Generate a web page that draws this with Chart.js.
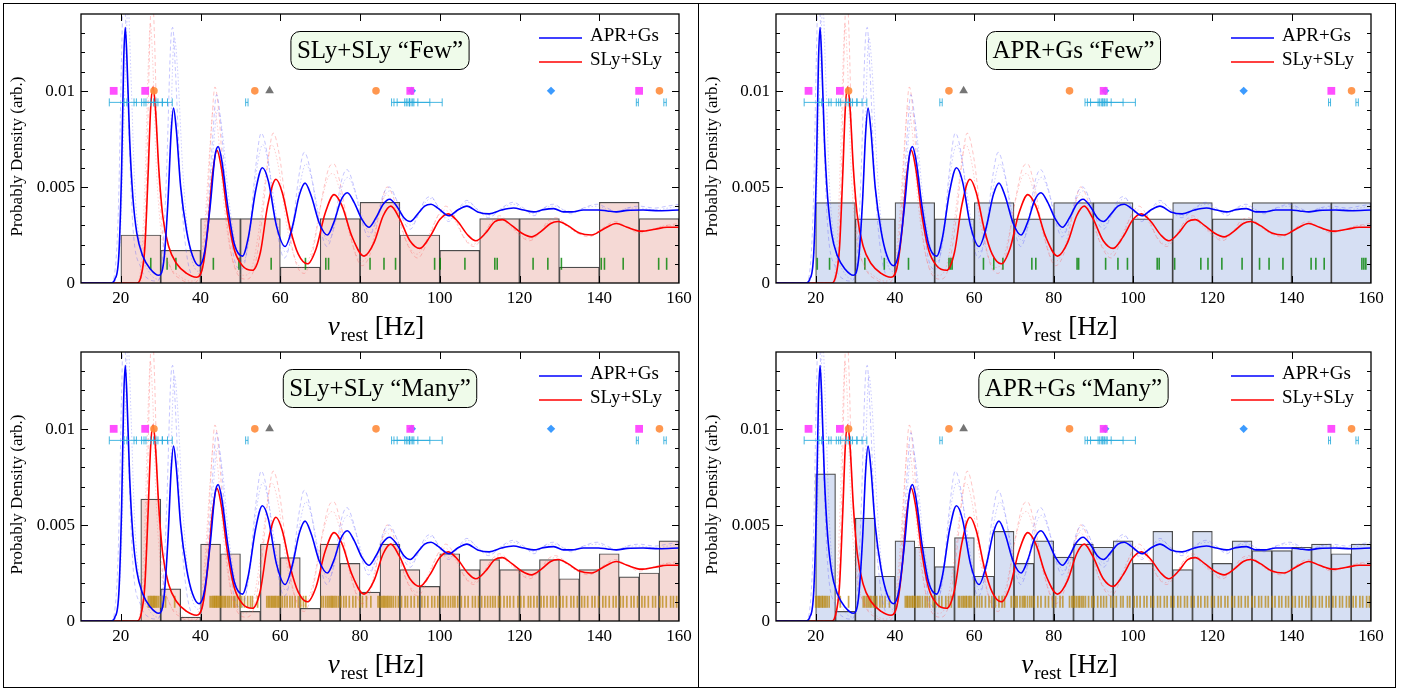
<!DOCTYPE html>
<html><head><meta charset="utf-8">
<script src="https://cdn.jsdelivr.net/npm/chart.js@4.4.0/dist/chart.umd.min.js"></script>
<style>
html,body{margin:0;padding:0;background:#fff;width:1412px;height:690px;overflow:hidden;}
.col{position:absolute;top:3px;height:683px;border:1px solid #000;}
#colL{left:3px;width:694px;}
#colR{left:698px;width:696px;}
canvas{position:absolute;}
</style></head><body>
<div class="col" id="colL"></div><div class="col" id="colR"></div>
<canvas id="c1" width="694" height="340" style="left:4px;top:4px"></canvas>
<canvas id="c2" width="694" height="343" style="left:4px;top:342px"></canvas>
<canvas id="c3" width="695" height="340" style="left:699px;top:4px"></canvas>
<canvas id="c4" width="695" height="343" style="left:699px;top:342px"></canvas>
<script>
const FONT = "'Liberation Serif','Times New Roman',serif";

// ---- curves (nu [Hz], density) ----
const aprCurve = [[10,0],[17.5,0],[18.5,0.0002],[19.5,0.0015],[20.2,0.006],[20.7,0.0115],[21.1,0.0133],[21.5,0.0118],[22.2,0.0075],[23,0.0045],[24,0.0026],[25.5,0.0014],[27.5,0.0007],[29.5,0.0004],[30.8,0.0012],[31.8,0.0042],[32.6,0.0078],[33.2,0.0091],[33.9,0.0080],[35,0.0050],[36.5,0.0027],[38,0.0014],[39.6,0.0009],[41,0.0016],[42.5,0.0042],[43.6,0.0066],[44.4,0.0071],[45.3,0.0064],[46.8,0.0040],[48.5,0.0020],[50.5,0.0014],[52,0.0024],[53.8,0.0048],[55.5,0.0060],[57,0.0053],[59,0.0030],[61.2,0.0019],[63,0.0029],[64.8,0.0046],[66.2,0.0052],[67.8,0.0045],[69.8,0.0031],[71.8,0.0025],[73.5,0.0032],[75.2,0.0043],[76.8,0.0047],[78.5,0.0042],[80.5,0.0033],[82.2,0.0029],[84,0.0034],[85.8,0.0041],[87.4,0.00436],[89.2,0.0040],[91,0.0034],[92.6,0.0032],[94.5,0.0036],[96.2,0.0040],[97.8,0.0041],[99.5,0.0039],[102.3,0.0035],[104.5,0.0038],[106.8,0.0040],[109.5,0.0037],[112.4,0.0036],[115.5,0.0038],[118.5,0.0039],[121,0.0038],[123.6,0.0037],[126,0.00382],[128.6,0.00387],[131,0.0037],[133.1,0.0037],[136,0.0038],[139.8,0.0038],[142,0.00375],[144.3,0.0037],[147,0.00378],[151,0.0038],[155,0.00376],[160,0.0038]];
const slyCurve = [[10,0],[24,0],[25,0.0003],[26,0.0018],[26.8,0.0055],[27.5,0.0092],[28.1,0.0102],[28.7,0.0090],[29.5,0.0060],[30.5,0.0035],[32,0.0019],[34,0.0010],[36.5,0.0005],[39,0.0003],[40.5,0.0008],[41.8,0.0028],[42.9,0.0055],[44.1,0.0069],[45.2,0.0060],[46.8,0.0035],[48.5,0.0017],[50.5,0.0009],[53,0.00066],[55,0.0016],[56.8,0.0040],[58.9,0.0054],[60.5,0.0047],[62.5,0.0028],[64.5,0.0015],[66.8,0.0010],[69,0.0018],[71.2,0.0036],[73.5,0.0046],[75.5,0.0040],[78,0.0024],[81,0.0014],[83.5,0.0021],[85.8,0.0035],[87.7,0.0040],[89.8,0.0034],[92.5,0.0022],[95,0.0018],[97.5,0.0024],[100,0.0033],[102.1,0.0036],[104.5,0.0032],[107,0.0025],[109,0.0022],[111.5,0.0026],[113.8,0.0032],[115.7,0.0033],[118,0.0030],[120.5,0.0026],[123,0.0024],[125.5,0.0027],[127.8,0.0031],[129.7,0.0032],[132,0.0030],[135,0.0026],[138.1,0.0025],[141,0.0028],[144.3,0.0031],[147,0.0029],[150.5,0.0027],[154,0.0028],[157,0.0029],[160,0.0029]];
const aprCurveFaintA = [[10,0],[17.5,0],[18.5,0.0006],[19.4,0.004],[20.2,0.012],[20.7,0.0155],[21.3,0.013],[22,0.008],[23,0.003],[25,0.0008],[27,0.0002],[29,0.0001],[30.5,0.0015],[31.5,0.006],[32.5,0.0125],[33,0.0133],[33.7,0.011],[35,0.005],[36.5,0.0015],[38.5,0.0003],[40,0.0004],[41.5,0.0025],[43,0.0075],[44,0.0098],[45,0.0085],[46.5,0.0045],[48.5,0.0012],[50.3,0.0007],[52,0.0022],[53.8,0.0060],[55.2,0.0078],[56.8,0.0066],[58.8,0.0032],[61,0.0013],[62.8,0.0025],[64.6,0.0055],[66,0.0068],[67.6,0.0058],[69.6,0.0033],[71.7,0.0019],[73.5,0.0030],[75.2,0.0052],[76.7,0.0059],[78.5,0.0050],[80.5,0.0032],[82.1,0.0024],[84,0.0032],[85.8,0.0046],[87.3,0.0050],[89,0.0044],[91,0.0032],[92.6,0.0028],[94.5,0.0035],[96.2,0.0043],[97.7,0.0045],[99.5,0.0040],[102.2,0.0032],[104.5,0.0038],[106.8,0.0043],[109.5,0.0038],[112.3,0.0034],[115.5,0.0039],[118.4,0.0042],[121,0.0039],[123.6,0.0035],[126,0.0039],[128.5,0.0041],[131,0.0038],[133,0.0036],[136,0.0039],[139.5,0.0041],[142,0.0039],[144.5,0.0037],[147,0.0039],[150,0.0040],[154,0.0039],[157,0.0040],[160,0.0041]];
const aprCurveFaintB = [[10,0],[18,0],[19,0.0005],[20,0.003],[21,0.010],[21.8,0.0145],[22.5,0.011],[23.5,0.005],[25,0.0018],[27,0.0006],[29.3,0.0002],[31,0.0015],[32.2,0.0060],[33.4,0.0128],[34.2,0.0112],[35.5,0.006],[37,0.0022],[39.5,0.0006],[41.2,0.0018],[42.8,0.0060],[44.3,0.0090],[45.5,0.0078],[47,0.0045],[49,0.0018],[50.7,0.0011],[52.5,0.0028],[54,0.0058],[55.6,0.0072],[57.2,0.0060],[59.3,0.0031],[61.3,0.0016],[63.2,0.0028],[65,0.0052],[66.4,0.0062],[68,0.0053],[70,0.0032],[72,0.0022],[74,0.0033],[75.5,0.0050],[77,0.0055],[78.8,0.0047],[80.8,0.0033],[82.4,0.0026],[84.2,0.0034],[86,0.0045],[87.6,0.0048],[89.4,0.0042],[91.2,0.0033],[92.8,0.0030],[94.7,0.0036],[96.4,0.0042],[98,0.0044],[99.8,0.0039],[102.4,0.0033],[104.7,0.0038],[107,0.0042],[109.7,0.0038],[112.5,0.0035],[115.7,0.0039],[118.6,0.0041],[121.2,0.0038],[123.8,0.0036],[126.2,0.0039],[128.8,0.0040],[131.2,0.0038],[133.3,0.0037],[136.2,0.0039],[139.8,0.0040],[142.2,0.0038],[144.7,0.0037],[147.2,0.0039],[150.2,0.0039],[154.2,0.0038],[157.2,0.0039],[160,0.0040]];
const slyCurveFaintA = [[10,0],[24.5,0],[25.5,0.001],[26.5,0.006],[27.3,0.013],[27.8,0.0155],[28.4,0.013],[29.2,0.007],[30.5,0.0025],[32.5,0.0008],[35,0.0002],[38,0],[40,0.0006],[41.5,0.0035],[42.7,0.0080],[43.6,0.0102],[44.6,0.0088],[46,0.0045],[48,0.0012],[51.5,0.0002],[53.5,0.0008],[55.5,0.0035],[57,0.0065],[58.2,0.0078],[59.8,0.0066],[62,0.0030],[64,0.0010],[66,0.0005],[68,0.0015],[70.5,0.0045],[72.2,0.0060],[73.4,0.0062],[75,0.0052],[77.5,0.0025],[80.5,0.0009],[83,0.0018],[85,0.0038],[86.8,0.0050],[88.8,0.0042],[91.5,0.0022],[94.5,0.0013],[97,0.0022],[99.5,0.0035],[101.5,0.0040],[103.8,0.0034],[106.2,0.0023],[108.5,0.0019],[111,0.0025],[113,0.0032],[115,0.0035],[117.5,0.0031],[120,0.0025],[122.5,0.0022],[125,0.0026],[127,0.0032],[129,0.0034],[131.5,0.0031],[134.5,0.0026],[137.5,0.0024],[140.5,0.0028],[144,0.0032],[147,0.0029],[150,0.0026],[153.5,0.0028],[157,0.0030],[160,0.0031]];
const slyCurveFaintB = [[10,0],[24,0],[25,0.0008],[26,0.005],[26.9,0.0115],[27.4,0.0135],[28,0.0115],[28.8,0.0065],[30,0.0028],[32,0.0010],[34.5,0.0004],[37.5,0.0001],[39.5,0.0005],[41,0.0030],[42.3,0.0070],[43.3,0.0092],[44.3,0.0080],[45.8,0.0042],[47.8,0.0014],[51,0.0004],[53,0.0009],[55,0.0033],[56.6,0.0060],[57.8,0.0072],[59.4,0.0062],[61.6,0.0030],[63.8,0.0012],[65.8,0.0008],[68,0.0018],[70.3,0.0042],[72,0.0055],[73.2,0.0057],[74.8,0.0049],[77.3,0.0026],[80.3,0.0011],[82.8,0.0019],[84.8,0.0036],[86.6,0.0046],[88.6,0.0040],[91.3,0.0023],[94.3,0.0015],[96.8,0.0023],[99.3,0.0034],[101.3,0.0038],[103.6,0.0033],[106,0.0024],[108.3,0.0020],[110.8,0.0025],[112.8,0.0031],[114.8,0.0034],[117.3,0.0030],[120,0.0025],[122.5,0.0023],[125,0.0026],[127,0.0031],[129,0.0033],[131.5,0.0030],[134.5,0.0026],[137.5,0.0025],[140.5,0.0028],[144,0.0031],[147,0.0029],[150,0.0027],[153.5,0.0028],[157,0.0030],[160,0.0030]];

// ---- marker row ----
const markerRowY = 0.01;
const magentaSquares = [18.2, 26.1, 92.6, 150.0];
const orangeCircles = [28.3, 53.6, 84.0, 155.1];
const grayTriangles = [57.3];
const blueDiamonds = [93.0, 127.9];
const errorBarY = 0.0094;
const errorBarLo = [17.1, 20.8, 23.3, 25.2, 25.8, 27.5, 28.8, 30.4, 51.3, 87.9, 88.5, 89.3, 91.2, 92.0, 92.8, 92.4, 149.3, 156.2];
const errorBarHi = [21.5, 23.9, 26.3, 28.2, 29.3, 30.4, 31.7, 32.9, 51.9, 91.6, 92.4, 93.2, 94.5, 97.5, 100.6, 93.5, 149.8, 156.8];

// ---- histograms ----
const edges10 = [20,30,40,50,60,70,80,90,100,110,120,130,140,150,160];
const edgesSlyMany = [25,30,35,40,45,50,55,60,65,70,75,80,85,90,95,100,105,110,115,120,125,130,135,140,145,150,155,160];
const edgesAprMany = [20,25,30,35,40,45,50,55,60,65,70,75,80,85,90,95,100,105,110,115,120,125,130,135,140,145,150,155,160];
const slyFewHist = [0.0025,0.0017,0.00335,0.00335,0.00083,0.00335,0.0042,0.0025,0.0017,0.00335,0.00335,0.00083,0.0042,0.00335];
const aprFewHist = [0.00418,0.00334,0.00418,0.00334,0.00418,0.00334,0.00418,0.00418,0.00334,0.00418,0.00334,0.00418,0.00418,0.00418];
const slyManyHist = [0.00634,0.00167,0.0002,0.004,0.0035,0.0005,0.004,0.0033,0.00066,0.004,0.003,0.0015,0.004,0.00267,0.0018,0.0035,0.00267,0.0032,0.00267,0.00267,0.0032,0.0022,0.00267,0.0035,0.0023,0.0025,0.00417];
const aprManyHist = [0.00766,0.0005,0.00535,0.00233,0.00417,0.00384,0.00283,0.00434,0.00233,0.00467,0.003,0.00417,0.00333,0.004,0.00384,0.00417,0.003,0.00467,0.00267,0.00467,0.003,0.00417,0.00366,0.00366,0.00384,0.004,0.0035,0.004];

// ---- rug (event frequencies) ----
const rugY = 0.001;
const slyFewRug = [27.5,31.6,33.8,43.2,49.6,57.7,66.3,71.4,72.1,82.5,86.0,88.9,98.7,100.1,106.3,113.8,114.4,123.4,127.1,130.5,140.5,141.3,146.0,154.9,156.9];
const aprFewRug = [20.4,23.5,32.4,37.3,43.4,53.6,54.0,54.4,62.3,64.9,67.2,74.5,75.5,85.9,86.3,93.1,96.2,98.6,106.1,106.6,110.5,117.1,118.9,122.4,127.5,131.9,134.3,137.8,144.9,146.1,148.2,157.7,158.2,158.7];
const slyManyRug = [26.9,27.3,27.6,27.9,28.2,28.4,28.7,29.0,29.4,29.9,30.6,31.2,33.5,42.4,42.8,43.1,43.4,43.6,43.9,44.1,44.4,44.7,45.0,45.2,45.6,46.0,46.3,46.8,47.2,47.7,48.3,48.6,49.2,49.9,50.3,51.0,51.8,52.5,53.0,54.3,56.6,57.0,57.3,57.7,58.0,58.3,58.6,58.9,59.3,59.6,60.0,60.5,61.1,61.7,62.4,63.0,63.7,64.5,65.1,65.8,66.4,70.3,70.8,71.4,71.9,72.3,72.7,73.0,73.3,73.7,74.1,74.6,75.2,75.9,76.5,77.3,78.2,78.9,79.9,80.6,81.6,82.7,84.5,84.9,85.3,85.7,86.0,86.3,86.7,87.0,87.4,87.8,88.3,88.9,89.6,90.4,91.3,91.9,92.8,93.6,94.5,95.5,96.2,97.0,98.0,98.7,99.5,100.2,100.8,101.4,102.1,102.7,103.3,103.8,104.5,105.4,106.3,107.1,108.2,108.9,109.7,110.5,111.3,112.0,112.7,113.3,113.9,114.7,115.2,116.1,116.9,117.6,118.5,119.6,120.3,121.1,122.2,122.8,123.6,124.4,125.4,126.1,126.9,127.8,128.4,129.2,130.2,130.9,131.8,132.9,133.6,134.5,135.6,136.3,137.1,138.2,138.9,139.8,140.9,141.6,142.5,143.5,144.2,145.3,146.0,146.9,148.0,148.7,149.6,150.7,151.4,152.3,153.4,154.1,155.2,155.9,156.8,157.9,158.6,159.4];
const aprManyRug = [20.0,20.3,20.7,20.9,21.2,21.6,21.8,22.2,22.5,22.9,23.4,26.2,28.3,32.0,32.4,32.9,33.3,33.7,34.0,34.5,34.9,35.4,36.2,36.8,37.5,38.6,42.6,43.0,43.2,43.6,43.9,44.3,44.5,44.9,45.1,45.6,45.9,46.3,46.9,47.6,48.1,48.7,49.6,50.2,51.1,51.8,52.8,53.5,54.2,56.0,56.3,56.8,57.2,57.5,57.9,58.1,58.6,58.9,59.3,59.9,60.7,61.3,61.9,62.8,63.7,64.4,65.3,66.2,67.0,67.6,69.3,69.9,70.4,70.8,71.5,72.1,72.5,72.8,73.4,74.0,74.5,75.1,76.0,76.8,77.9,78.7,79.7,80.5,81.6,82.3,84.0,84.6,85.0,85.3,85.8,86.3,86.6,87.1,87.5,88.0,88.8,89.6,90.2,91.1,91.9,92.6,93.3,94.4,95.1,95.8,96.9,97.5,98.6,99.2,100.3,101.0,101.8,102.8,103.5,104.5,105.2,106.2,106.9,107.9,108.6,109.6,110.3,111.3,112.0,113.0,113.7,114.7,115.4,116.4,117.1,118.1,118.8,119.8,120.5,121.5,122.2,123.2,123.9,124.9,125.6,126.6,127.3,128.3,129.0,130.0,130.7,131.7,132.4,133.4,134.1,135.1,135.8,136.8,137.5,138.5,139.2,140.2,140.9,141.9,142.6,143.6,144.3,145.3,146.0,147.0,147.7,148.7,149.4,150.4,151.1,152.1,152.8,153.8,154.5,155.5,156.2,157.2,157.9,158.9,159.6];

// ---- tick labels ----
const xTickLabels = [20,40,60,80,100,120,140,160];
const yTickValues = [0, 0.005, 0.01];
const yTickLabels = ['0', '0.005', '0.01'];
const legendLabels = ['APR+Gs', 'SLy+SLy'];

const toXY = arr => arr.map(p => ({x:p[0], y:p[1]}));
const atY = (xs, yv) => xs.map(v => ({x:v, y:yv}));

const framePlugin = {
  id: 'frame',
  afterDraw(chart) {
    const {ctx, chartArea:a, scales:{x, y}} = chart;
    ctx.save();
    ctx.strokeStyle = '#000';
    ctx.lineWidth = 1;
    const seg = (x1,y1,x2,y2) => { ctx.beginPath(); ctx.moveTo(x1,y1); ctx.lineTo(x2,y2); ctx.stroke(); };
    x.ticks.forEach(t => {
      const v = t.value; if (v <= x.min || v >= x.max) return;
      const px = Math.round(x.getPixelForValue(v)) + 0.5;
      const L = (v % 20 === 0) ? 7 : 4;
      seg(px, a.bottom, px, a.bottom - L); seg(px, a.top, px, a.top + L);
    });
    y.ticks.forEach(t => {
      const v = t.value; if (v <= y.min + 1e-9 || v >= y.max - 1e-9) return;
      const py = Math.round(y.getPixelForValue(v)) + 0.5;
      const L = (Math.round(v * 1000) % 5 === 0) ? 7 : 4;
      seg(a.left, py, a.left + L, py); seg(a.right, py, a.right - L, py);
    });
    ctx.lineWidth = 1.3;
    ctx.strokeRect(a.left, a.top, a.right - a.left, a.bottom - a.top);
    // y tick labels, placed by the y scale
    ctx.fillStyle = '#000'; ctx.font = '17px ' + FONT;
    ctx.textAlign = 'right'; ctx.textBaseline = 'middle';
    yTickValues.forEach((v, i) => ctx.fillText(yTickLabels[i], a.left - 6, y.getPixelForValue(v) + 1));
    ctx.restore();
  }
};

const decoPlugin = {
  id: 'deco',
  afterDraw(chart, args, opts) {
    const {ctx, chartArea:a, scales:{x, y}} = chart;
    ctx.save();
    // title box
    ctx.font = '25px ' + FONT;
    const tw = ctx.measureText(opts.title).width;
    const bw = tw + 12, bh = 38;
    const cx = x.getPixelForValue(85), cy = y.getPixelForValue(0.0121);
    ctx.beginPath();
    ctx.roundRect(cx - bw/2, cy - bh/2, bw, bh, 9);
    ctx.fillStyle = '#effbea'; ctx.fill();
    ctx.strokeStyle = '#000'; ctx.lineWidth = 1; ctx.stroke();
    ctx.fillStyle = '#000'; ctx.textAlign = 'center'; ctx.textBaseline = 'middle';
    ctx.fillText(opts.title, cx, cy + 1);
    // legend
    const cols = ['#0000ff', '#ff0000'];
    ctx.font = '19px ' + FONT; ctx.textAlign = 'left';
    legendLabels.forEach((lab, i) => {
      const ly = a.top + 22 + i * 24;
      ctx.strokeStyle = cols[i]; ctx.lineWidth = 1.6;
      ctx.beginPath(); ctx.moveTo(a.right - 140, ly + 2); ctx.lineTo(a.right - 97, ly + 2); ctx.stroke();
      ctx.fillStyle = '#000';
      ctx.fillText(lab, a.right - 89, ly);
    });
    // x title: nu_rest [Hz]
    ctx.textBaseline = 'alphabetic';
    ctx.font = 'italic 27px ' + FONT; const wNu = ctx.measureText('ν').width;
    ctx.font = '19px ' + FONT; const wSub = ctx.measureText('rest').width;
    ctx.font = '27px ' + FONT; const wHz = ctx.measureText(' [Hz]').width;
    const total = wNu + 1 + wSub + wHz;
    let sx = (a.left + a.right) / 2 - total / 2 - 4;
    const by = a.bottom + 52;
    ctx.fillStyle = '#000';
    ctx.font = 'italic 27px ' + FONT; ctx.fillText('ν', sx, by); sx += wNu + 1;
    ctx.font = '19px ' + FONT; ctx.fillText('rest', sx, by + 6); sx += wSub;
    ctx.font = '27px ' + FONT; ctx.fillText(' [Hz]', sx, by);
    // y title
    ctx.translate(14, (a.top + a.bottom) / 2 + 8);
    ctx.rotate(-Math.PI / 2);
    ctx.font = '17px ' + FONT; ctx.textAlign = 'center'; ctx.textBaseline = 'middle';
    ctx.fillText('Probably Density (arb.)', 0, 0);
    ctx.restore();
  }
};

function histData(edges, vals) {
  return vals.map((v, i) => ({x: (edges[i] + edges[i+1]) / 2, y: v}));
}

function makePanel(p) {
  const errData = [];
  errorBarLo.forEach((lo, i) => {
    errData.push({x: lo, y: errorBarY}, {x: errorBarHi[i], y: errorBarY}, {x: errorBarHi[i], y: null});
  });
  const lineDs = (data, color, w, dash, order, label) => ({
    type: 'line', label: label || '', data: toXY(data), borderColor: color, borderWidth: w,
    borderDash: dash || [], pointRadius: 0, cubicInterpolationMode: 'monotone', fill: false, order
  });
  const markerDs = (xs, style, r, color, yv) => ({
    type: 'scatter', data: atY(xs, yv), pointStyle: style, pointRadius: r,
    backgroundColor: color, borderColor: color, borderWidth: 0, order: 0
  });
  const datasets = [
    { type: 'bar', data: histData(p.edges, p.hist), backgroundColor: p.barColor,
      borderColor: 'rgba(45,45,45,0.85)', borderWidth: 1.2, barPercentage: 1, categoryPercentage: 1, order: 20 },
    { type: 'scatter', data: atY(p.rug, rugY), pointStyle: 'line', rotation: 90, pointRadius: 6,
      borderColor: p.rugColor, borderWidth: p.rugWidth, order: 15 },
    lineDs(aprCurveFaintA, 'rgba(90,90,255,0.35)', 1, [4,3], 10),
    lineDs(aprCurveFaintB, 'rgba(90,90,255,0.30)', 1, [1.5,2], 10),
    lineDs(slyCurveFaintA, 'rgba(255,90,90,0.35)', 1, [4,3], 10),
    lineDs(slyCurveFaintB, 'rgba(255,90,90,0.30)', 1, [1.5,2], 10),
    lineDs(slyCurve, '#ff0000', 1.6, [], 3, 'SLy+SLy'),
    lineDs(aprCurve, '#0000ff', 1.6, [], 2, 'APR+Gs'),
    { type: 'line', data: errData, borderColor: 'rgba(40,170,220,0.85)', borderWidth: 1, spanGaps: false,
      pointStyle: 'line', rotation: 90, pointRadius: 4, pointBorderColor: 'rgba(40,170,220,0.85)', pointBorderWidth: 1, order: 1 },
    markerDs(magentaSquares, 'rect', 5.5, 'rgba(255,60,255,0.9)', markerRowY),
    markerDs(orangeCircles, 'circle', 3.8, 'rgba(255,140,60,0.9)', markerRowY),
    markerDs(grayTriangles, 'triangle', 5, 'rgba(110,110,110,0.95)', markerRowY),
    markerDs(blueDiamonds, 'rectRot', 4.2, 'rgba(50,150,255,0.95)', markerRowY)
  ];
  const canvas = document.getElementById(p.id);
  const H = canvas.height, W = canvas.width;
  const lay = { xAxisH: p.xAxisH, yAxisW: 77 };
  const chart = new Chart(canvas, {
    type: 'line',
    data: { datasets },
    options: {
      responsive: false, animation: false, events: [], devicePixelRatio: 1,
      layout: { padding: { top: 10, right: p.padRight, left: 0, bottom: 0 } },
      plugins: { legend: { display: false }, tooltip: { enabled: false }, deco: { title: p.title } },
      scales: {
        x: {
          type: 'linear', min: 10, max: 160, offset: false,
          grid: { display: false, drawTicks: false, offset: false }, border: { display: false },
          ticks: { stepSize: 5, autoSkip: false, maxRotation: 0, padding: 5, color: '#000',
                   font: { family: FONT, size: 17 },
                   callback: v => xTickLabels.includes(v) ? String(v) : null },
          afterFit: s => { s.height = lay.xAxisH; }
        },
        y: {
          type: 'linear', min: 0, max: 0.014,
          grid: { display: false, drawTicks: false }, border: { display: false },
          ticks: { display: false, stepSize: 0.001, autoSkip: false },
          afterFit: s => { s.width = lay.yAxisW; }
        }
      }
    },
    plugins: [framePlugin, decoPlugin]
  });
  // pin the plot area: top 10, bottom H - xAxisH, left 77, right W - padRight
  const ca = chart.chartArea;
  const pad = chart.options.layout.padding;
  pad.top = Math.max(0, 10 - (ca.top - 10));
  lay.xAxisH = p.xAxisH + (ca.bottom - (H - p.xAxisH));
  lay.yAxisW = 77 - (ca.left - 77);
  pad.right = p.padRight + (ca.right - (W - p.padRight));
  chart.update('none');
  // bar width = one bin width, measured through the x scale
  const xs = chart.scales.x;
  chart.data.datasets[0].barThickness = xs.getPixelForValue(p.edges[1]) - xs.getPixelForValue(p.edges[0]);
  chart.update('none');
}

const panels = [
  { id: 'c1', title: 'SLy+SLy “Few”', edges: edges10, hist: slyFewHist, barColor: '#f5d9d5', rug: slyFewRug, rugColor: 'rgba(0,130,0,0.8)', rugWidth: 1.6, padRight: 19, xAxisH: 61 },
  { id: 'c2', title: 'SLy+SLy “Many”', edges: edgesSlyMany, hist: slyManyHist, barColor: '#f5d9d5', rug: slyManyRug, rugColor: 'rgba(184,134,11,0.72)', rugWidth: 1.7, padRight: 19, xAxisH: 64 },
  { id: 'c3', title: 'APR+Gs “Few”', edges: edges10, hist: aprFewHist, barColor: '#d6dff3', rug: aprFewRug, rugColor: 'rgba(0,130,0,0.8)', rugWidth: 1.6, padRight: 23, xAxisH: 61 },
  { id: 'c4', title: 'APR+Gs “Many”', edges: edgesAprMany, hist: aprManyHist, barColor: '#d6dff3', rug: aprManyRug, rugColor: 'rgba(184,134,11,0.72)', rugWidth: 1.7, padRight: 23, xAxisH: 64 }
];
panels.forEach(makePanel);
</script>
</body></html>
